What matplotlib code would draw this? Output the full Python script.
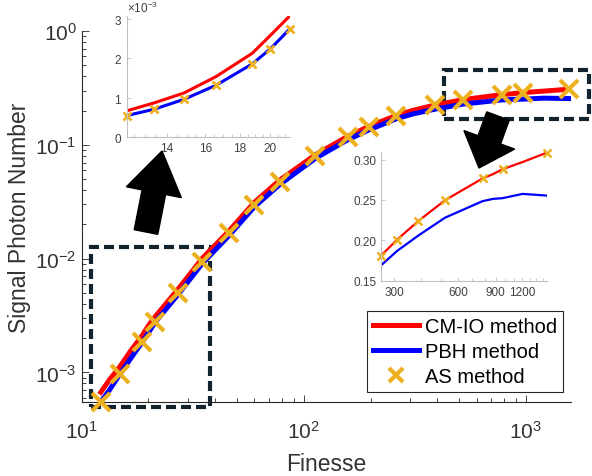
import numpy as np
import matplotlib
matplotlib.use("Agg")
import matplotlib.pyplot as plt
from matplotlib.patches import Rectangle, FancyArrow
from matplotlib.ticker import FixedLocator, ScalarFormatter, NullFormatter, LogLocator

plt.rcParams['font.family'] = ['Liberation Sans', 'DejaVu Sans']
plt.rcParams['mathtext.fontset'] = 'custom'
plt.rcParams['mathtext.rm'] = 'Liberation Sans'

# finesse grid shared by the two model curves
line_f = [12.2, 13.4, 14.85, 16.6, 18.8, 20.0, 21.4, 27.2, 35.0, 46.3, 59.9, 78.0,
          113, 158, 196, 260, 310, 390, 520, 781, 875, 970, 1207, 1565]
cmio = [0.67e-3, 0.87e-3, 1.12e-3, 1.54e-3, 2.13e-3, 2.58e-3, 3.08e-3, 5.4e-3,
        0.0101, 0.0177, 0.0312, 0.049, 0.082, 0.119, 0.145, 0.181, 0.201, 0.224,
        0.2496, 0.2766, 0.282, 0.288, 0.297, 0.3085]
pbh = [0.55e-3, 0.71e-3, 0.96e-3, 1.32e-3, 1.86e-3, 2.24e-3, 2.75e-3, 4.85e-3,
       0.0091, 0.0161, 0.0285, 0.0448, 0.0762, 0.111, 0.135, 0.169, 0.187, 0.206,
       0.228, 0.2485, 0.2513, 0.2522, 0.2575, 0.2554]

# AS simulation points shown on the main axes
as_f = [12.2, 14.85, 18.8, 21.4, 27.2, 35.0, 46.3, 59.9, 78.0, 113, 158, 196,
        260, 390, 520, 781, 970, 1565]
as_v = [0.55e-3, 0.96e-3, 1.86e-3, 2.75e-3, 4.97e-3, 9.4e-3, 0.0167, 0.0297,
        0.0469, 0.0794, 0.1166, 0.1428, 0.181, 0.224, 0.2496, 0.2766, 0.288, 0.3085]
# extra AS points only shown in the zoomed panels
as_zoom_f = [13.4, 16.6, 20.0, 310]
as_zoom_v = [0.71e-3, 1.32e-3, 2.24e-3, 0.201]

RED, BLUE, GOLD = "#ff0000", "#0000ff", "#edb120"
TXT = "#333333"
W, H = 592, 477


def px_ax(fig, l, t, r, b):
    return fig.add_axes([l / W, (H - b) / H, (r - l) / W, (b - t) / H])


fig = plt.figure(figsize=(W / 100, H / 100), dpi=100)

# ---- main log-log axes ----
ax = px_ax(fig, 81.6, 32.1, 570.8, 403)
ax.plot(line_f, cmio, color=RED, lw=3.6, label="CM-IO method", zorder=3)
ax.plot(line_f, pbh, color=BLUE, lw=3.6, label="PBH method", zorder=3)
ax.plot(as_f, as_v, ls="none", marker="x", ms=13, mew=3, color=GOLD,
        label="AS method", zorder=4, clip_on=False)
ax.set_xscale("log"); ax.set_yscale("log")
ax.set_xlim(10, 1595); ax.set_ylim(5.5e-4, 1)
ax.xaxis.set_major_locator(LogLocator(base=10, numticks=10))
ax.yaxis.set_major_locator(LogLocator(base=10, numticks=10))
for s in ("top", "right"):
    ax.spines[s].set_visible(False)
for s in ("left", "bottom"):
    ax.spines[s].set_color("#262626"); ax.spines[s].set_linewidth(0.8)
ax.tick_params(which="both", direction="in", colors="#262626", labelcolor=TXT,
               labelsize=15, width=0.6)
ax.tick_params(which="major", length=5)
ax.tick_params(which="minor", length=3)
ax.tick_params(axis="x", pad=13)
ax.set_xlabel("Finesse", fontsize=16.5, color=TXT, labelpad=7)
ax.set_ylabel("Signal Photon Number", fontsize=16.5, color=TXT, labelpad=3)

leg = ax.legend(loc="lower right", bbox_to_anchor=(0.985, 0.026), borderaxespad=0,
                fontsize=14.5, fancybox=False, edgecolor="#262626", framealpha=1,
                handlelength=2.3, markerscale=0.75, labelspacing=0.3,
                borderpad=0.3, handletextpad=0.3)
leg.get_frame().set_linewidth(0.8)

# dashed frames marking the zoomed regions
box_style = dict(fill=False, lw=3, ls=(0, (2.4, 1.2)), ec="#13232e",
                 clip_on=False, zorder=2)
ax.add_patch(Rectangle((11.0, 4.94e-4), 38.0 - 11.0, 0.0126 - 4.94e-4, **box_style))
ax.add_patch(Rectangle((427, 0.170), 1921 - 427, 0.452 - 0.170, **box_style))


def style_inset(a):
    for s in ("top", "right"):
        a.spines[s].set_visible(False)
    for s in ("left", "bottom"):
        a.spines[s].set_color("#c0c0c0"); a.spines[s].set_linewidth(0.8)
    a.tick_params(which="both", direction="in", colors="#c0c0c0",
                  labelcolor="#404040", labelsize=8.5, width=0.6)
    a.tick_params(which="major", length=3)
    a.tick_params(which="minor", length=2)
    a.patch.set_alpha(0)


zoom_f = np.array(as_f + as_zoom_f)
zoom_v = np.array(as_v + as_zoom_v)


def zoom_points(a, lo, hi, ms, mew):
    keep = (zoom_f >= lo) & (zoom_f <= hi)
    a.plot(zoom_f[keep], zoom_v[keep], ls="none", marker="x", ms=ms, mew=mew,
           color=GOLD, clip_on=False)


# ---- low-finesse zoom ----
ins1 = px_ax(fig, 126.7, 16.7, 290, 138.3)
ins1.plot(line_f, cmio, color=RED, lw=2.2)
ins1.plot(line_f, pbh, color=BLUE, lw=2.2)
zoom_points(ins1, 12.2, 21.4, 6, 2)
ins1.set_xscale("log")
ins1.set_xlim(12.2, 21.4); ins1.set_ylim(0, 3.08e-3)
ins1.xaxis.set_major_locator(FixedLocator([14, 16, 18, 20]))
ins1.xaxis.set_major_formatter(ScalarFormatter())
ins1.xaxis.set_minor_locator(FixedLocator(np.arange(12.5, 21.5, 0.5)))
ins1.xaxis.set_minor_formatter(NullFormatter())
ins1.yaxis.set_major_locator(FixedLocator([0, 1e-3, 2e-3, 3e-3]))
yfmt = ScalarFormatter(useMathText=True)
yfmt.set_powerlimits((-2, 2))
ins1.yaxis.set_major_formatter(yfmt)
style_inset(ins1)
ins1.yaxis.get_offset_text().set_fontsize(8.5)
ins1.yaxis.get_offset_text().set_color("#404040")

# ---- high-finesse zoom ----
ins2 = px_ax(fig, 381, 153.3, 546.7, 281.7)
ins2.plot(line_f, cmio, color=RED, lw=1.6)
ins2.plot(line_f, pbh, color=BLUE, lw=1.6)
zoom_points(ins2, 260, 1565, 5.5, 1.8)
ins2.set_xscale("log")
ins2.set_xlim(260, 1565); ins2.set_ylim(0.15, 0.309)
ins2.xaxis.set_major_locator(FixedLocator([300, 600, 900, 1200]))
ins2.xaxis.set_major_formatter(ScalarFormatter())
ins2.xaxis.set_minor_locator(FixedLocator([400, 500, 700, 800, 1000, 1100, 1300, 1400, 1500]))
ins2.xaxis.set_minor_formatter(NullFormatter())
ins2.yaxis.set_major_locator(FixedLocator([0.15, 0.2, 0.25, 0.3]))
style_inset(ins2)


# block arrows pointing from each frame to its zoom panel (figure pixels)
def block_arrow(x0, y0, x1, y1, width, head_w, head_l):
    fig.patches.append(FancyArrow(x0 / 100, (H - y0) / 100, (x1 - x0) / 100,
                                  (y0 - y1) / 100, width=width / 100,
                                  head_width=head_w / 100, head_length=head_l / 100,
                                  length_includes_head=True, color="black",
                                  transform=fig.dpi_scale_trans, zorder=5))


block_arrow(146, 233, 162, 152, 24, 56, 42)
block_arrow(498, 117, 479, 169, 24, 54, 30)

fig.savefig("out.png", dpi=100)
